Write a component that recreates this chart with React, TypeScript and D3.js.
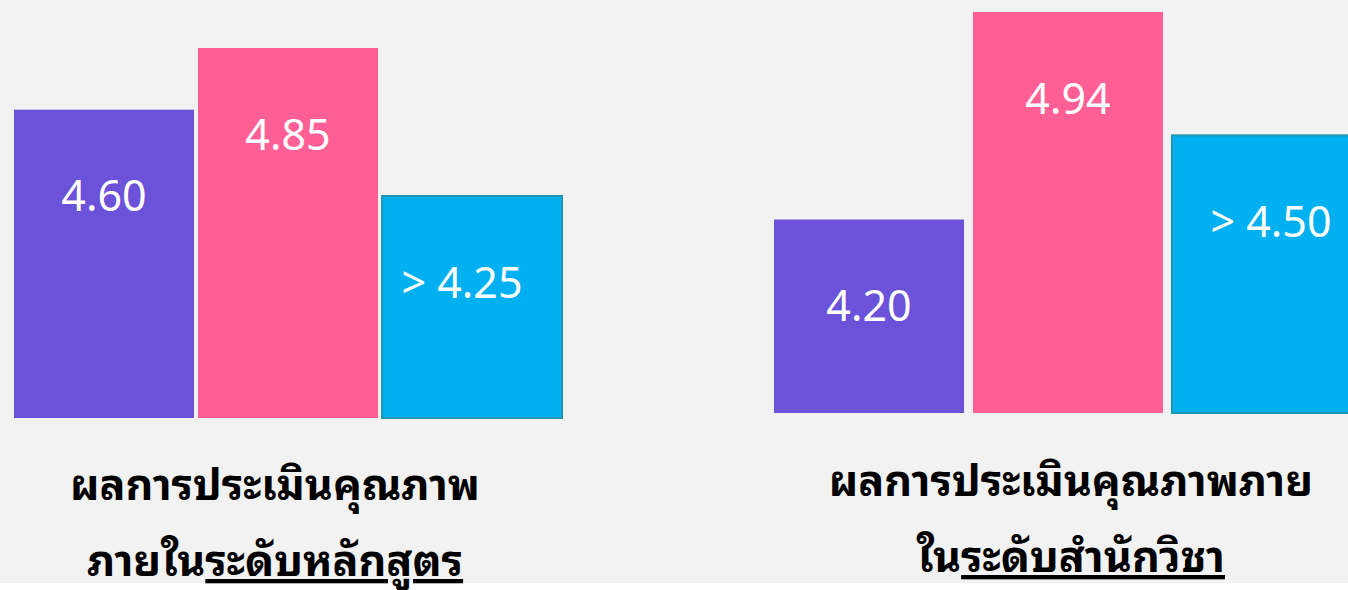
import React from 'react';
import * as d3 from 'd3';

const W = 1348;
const H = 590;

// two panels: programme level and school level
const groupTitles = [
  ['ผลการประเมินคุณภาพ', 'ภายใน', 'ระดับหลักสูตร'],
  ['ผลการประเมินคุณภาพภาย', 'ใน', 'ระดับสำนักวิชา'],
];
const seriesKeys = ['a', 'b', 'target'];
const programValues = [4.6, 4.85, 4.25];
const schoolValues = [4.2, 4.94, 4.5];
const valueLabels = [
  ['4.60', '4.85', '> 4.25'],
  ['4.20', '4.94', '> 4.50'],
];
const colors = ['#6c52d9', '#ff5f95', '#00b0f0'];

const panels = [
  { values: programValues, x0: 14, x1: 562, gap: 0.022, base: 418, v0: 3.35, vTop: 4.85, yTop: 48, labelShift: -10, titleX: 275, titleY: [500, 576] },
  { values: schoolValues, x0: 774, x1: 1362, gap: 0.045, base: 413, v0: 3.51, vTop: 4.94, yTop: 12, labelShift: 4, titleX: 1071, titleY: [496, 572] },
];

const fontBars = '"Noto Sans", "Open Sans", sans-serif';
const fontThai = '"Noto Sans Thai Looped", "Noto Sans Thai", "Noto Sans", Tahoma, sans-serif';

const App = () => {
  return (
    <svg width={W} height={H} style={{ position: 'absolute', left: 0, top: 0 }}>
      <rect x={0} y={0} width={W} height={583} fill="#f2f2f2" />
      <rect x={0} y={583} width={W} height={H - 583} fill="#ffffff" />
      {panels.map((p, gi) => {
        const x = d3.scaleBand<string>().domain(seriesKeys).range([p.x0, p.x1]).paddingInner(p.gap);
        const y = d3.scaleLinear().domain([p.v0, p.vTop]).range([p.base, p.yTop]);
        const [l1, l2a, l2b] = groupTitles[gi];
        return (
          <g key={gi}>
            {p.values.map((v, i) => {
              const key = seriesKeys[i];
              const top = y(v);
              const h = p.base - top;
              const isTarget = key === 'target';
              return (
                <g key={key}>
                  <rect
                    x={x(key)}
                    y={top}
                    width={x.bandwidth()}
                    height={h}
                    fill={colors[i]}
                    stroke={isTarget ? '#1b97b3' : 'none'}
                    strokeWidth={2}
                  />
                  <text
                    x={(x(key) as number) + x.bandwidth() / 2 + (isTarget ? p.labelShift : 0)}
                    y={top + 85}
                    textAnchor="middle"
                    dominantBaseline="central"
                    fill="#ffffff"
                    fontFamily={fontBars}
                    fontSize={43}>
                    {valueLabels[gi][i]}
                  </text>
                </g>
              );
            })}
            <text
              x={p.titleX}
              y={p.titleY[0]}
              textAnchor="middle"
              fontFamily={fontThai}
              fontWeight="bold"
              fontSize={43}
              fill="#000">
              {l1}
            </text>
            <text
              x={p.titleX}
              y={p.titleY[1]}
              textAnchor="middle"
              fontFamily={fontThai}
              fontWeight="bold"
              fontSize={43}
              fill="#000">
              {l2a}
              <tspan textDecoration="underline" style={{ textDecoration: 'underline' }}>
                {l2b}
              </tspan>
            </text>
          </g>
        );
      })}
    </svg>
  );
};

export default App;
